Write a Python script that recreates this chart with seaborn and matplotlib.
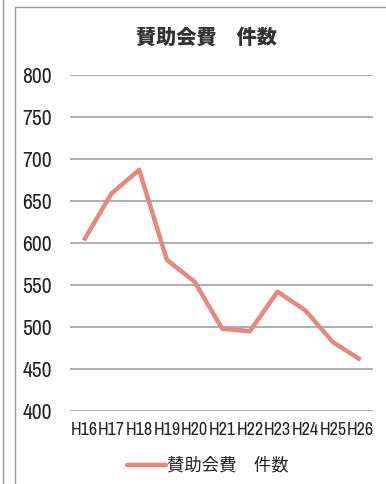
import matplotlib
matplotlib.use("Agg")
import matplotlib.pyplot as plt
from matplotlib.lines import Line2D
import seaborn as sns
import pandas as pd

years = ["H16", "H17", "H18", "H19", "H20", "H21", "H22", "H23", "H24", "H25", "H26"]
counts = [603, 659, 687, 580, 554, 498, 495, 542, 520, 482, 461]
y_ticks = [400, 450, 500, 550, 600, 650, 700, 750, 800]
series_name = "賛助会費　件数"

sns.set_theme(style="white")
plt.rcParams["font.family"] = ["Archivo Narrow", "PT Sans Narrow", "Liberation Sans",
                               "Noto Sans CJK JP", "DejaVu Sans"]
plt.rcParams["ytick.major.size"] = 0
plt.rcParams["ytick.major.pad"] = 13
plt.rcParams["xtick.major.size"] = 0
plt.rcParams["xtick.major.pad"] = 8

df = pd.DataFrame({"year": years, "count": counts, "pos": range(len(years))})

fig = plt.figure(figsize=(3.86, 4.84), dpi=100)
ax = fig.add_axes([70 / 386, 1 - 411 / 484, 303 / 386, 336 / 484])

line_color = "#E8877E"
for v in y_ticks:
    ax.axhline(v, color="#9a9a9a", lw=1.1, zorder=1)

sns.lineplot(data=df, x="pos", y="count", ax=ax, color=line_color, lw=3.2,
             solid_capstyle="butt", zorder=3, legend=False)

ax.set_ylim(400, 800)
ax.set_xlim(-0.5, 10.45)
ax.set_yticks(y_ticks)
ax.set_yticklabels([str(v) for v in y_ticks], fontsize=15.5, color="#222222")
ax.set_xticks(range(len(years)))
ax.set_xticklabels(years, fontsize=13, color="#222222")
ax.tick_params(axis="y", length=0, pad=13)
ax.tick_params(axis="x", length=0, pad=8)
ax.set_xlabel("")
ax.set_ylabel("")
for s in ax.spines.values():
    s.set_visible(False)
ax.grid(False)

fig.text(206 / 386, 1 - 38 / 484, series_name, ha="center", va="center",
         fontsize=14.5, fontweight="heavy", color="#333333",
         family=["Noto Sans CJK JP", "DejaVu Sans"])

# legend entry beneath the axis labels
fig.add_artist(Line2D([127 / 386, 166 / 386], [1 - 465 / 484, 1 - 465 / 484],
                      color=line_color, lw=3.2, transform=fig.transFigure))
fig.text(167 / 386, 1 - 465 / 484, series_name, ha="left", va="center",
         fontsize=12.5, color="#222222", family=["Noto Sans CJK JP", "DejaVu Sans"])

# frame lines around the chart area
fig.add_artist(Line2D([3 / 386, 3 / 386], [0, 1], color="#9a9a9a", lw=1.0,
                      transform=fig.transFigure))
fig.add_artist(Line2D([15 / 386, 15 / 386], [0, 1 - 7 / 484], color="#9a9a9a", lw=1.0,
                      transform=fig.transFigure))
fig.add_artist(Line2D([15 / 386, 1], [1 - 7 / 484, 1 - 7 / 484], color="#9a9a9a", lw=1.0,
                      transform=fig.transFigure))

fig.savefig("out.png", dpi=100, facecolor="white")
